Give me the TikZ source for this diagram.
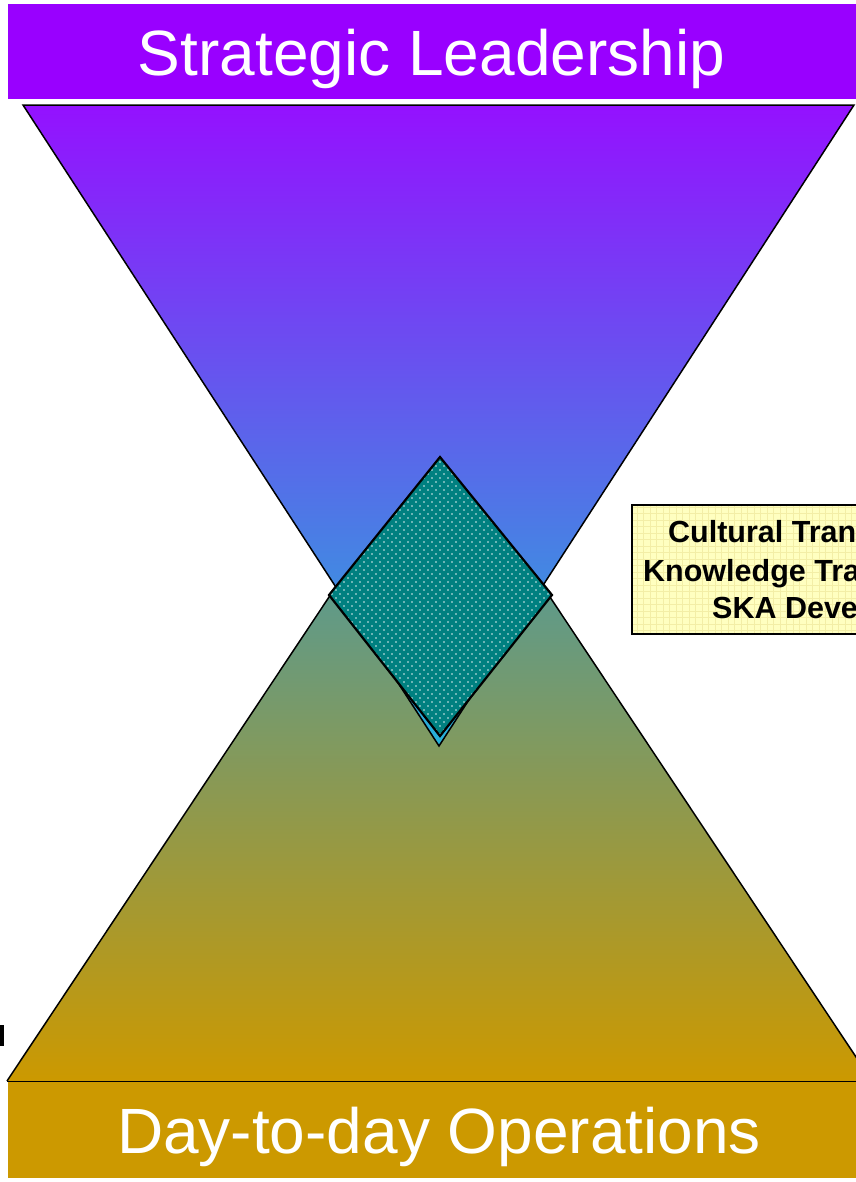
\documentclass[tikz,border=0pt]{standalone}
\usepackage{fontspec}
\setmainfont{Liberation Sans}
\usetikzlibrary{patterns}
\definecolor{topband}{HTML}{9900FF}
\definecolor{botband}{HTML}{CC9900}
\definecolor{toptriA}{HTML}{9411FF}
\definecolor{toptriB}{HTML}{26B2D8}
\definecolor{bottriA}{HTML}{3A9AB8}
\definecolor{bottriB}{HTML}{CC9900}
\definecolor{diamondfill}{HTML}{008080}
\definecolor{boxfill}{HTML}{FFFFC0}
\definecolor{boxgrid}{HTML}{F3EEA6}
\definecolor{baseline}{HTML}{5A4000}
\pgfdeclarepatternformonly{diadots}{\pgfqpoint{-1.5bp}{-1.5bp}}{\pgfqpoint{5.5bp}{5.5bp}}{\pgfqpoint{8bp}{8bp}}{%
  \pgfpathcircle{\pgfqpoint{0bp}{0bp}}{0.95bp}%
  \pgfpathcircle{\pgfqpoint{4bp}{4bp}}{0.95bp}%
  \pgfusepath{fill}}
\begin{document}
\begin{tikzpicture}[x=1bp,y=-1bp,
  title/.style={text=white, font=\fontsize{64bp}{64bp}\selectfont, anchor=base, inner sep=0pt},
  boxtext/.style={text=black, font=\bfseries\fontsize{30.5bp}{36bp}\selectfont, anchor=base west, inner sep=0pt},
  outline/.style={draw=black, line width=1.5bp, line join=miter}]
\useasboundingbox (0,0) rectangle (856,1182);
\begin{scope}
\clip (0,0) rectangle (856,1182);
% corner coordinates
\coordinate (ttl) at (23,105);
\coordinate (ttr) at (854,105);
\coordinate (tta) at (439,746);
\coordinate (btl) at (7,1081);
\coordinate (btr) at (872,1081);
\coordinate (bta) at (439.5,431);
\coordinate (dt) at (440,457);
\coordinate (dr) at (552,595);
\coordinate (db) at (440,736);
\coordinate (dl) at (329,595);
% top banner
\fill[topband] (8,4) rectangle (870,99);
\node[title] (toptitle) at (431.5,75) {Strategic Leadership};
% bottom banner
\fill[botband] (8,1082) rectangle (870,1178);
\node[title] (bottitle) at (439,1153) {Day-to-day Operations};
% bottom triangle
\shade[top color=bottriA, bottom color=bottriB] (btl) -- (bta) -- (btr) -- cycle;
\draw[outline] (btl) -- (bta) -- (btr);
\draw[baseline, line width=1bp] (btl) -- (btr);
% top triangle
\shade[top color=toptriA, bottom color=toptriB] (ttl) -- (ttr) -- (tta) -- cycle;
\draw[outline] (ttl) -- (ttr) -- (tta) -- cycle;
% diamond
\fill[diamondfill] (dt) -- (dr) -- (db) -- (dl) -- cycle;
\fill[pattern=diadots, pattern color=white!85!diamondfill] (dt) -- (dr) -- (db) -- (dl) -- cycle;
\draw[outline, line width=2.2bp] (dt) -- (dr) -- (db) -- (dl) -- cycle;
% yellow box
\fill[boxfill] (632,505) rectangle (900,634);
\draw[boxgrid, line width=0.5bp, step=6.5bp] (632,505) grid (900,634);
\draw[outline] (632,505) rectangle (900,634);
\node[boxtext] (l1) at (668,542.5) {Cultural Tran};
\node[boxtext] (l2) at (643,581) {Knowledge Tra};
\node[boxtext] (l3) at (712,618.5) {SKA Deve};
% small mark at left edge
\fill[black] (0,1025) rectangle (4,1046);
\end{scope}
\end{tikzpicture}
\end{document}
